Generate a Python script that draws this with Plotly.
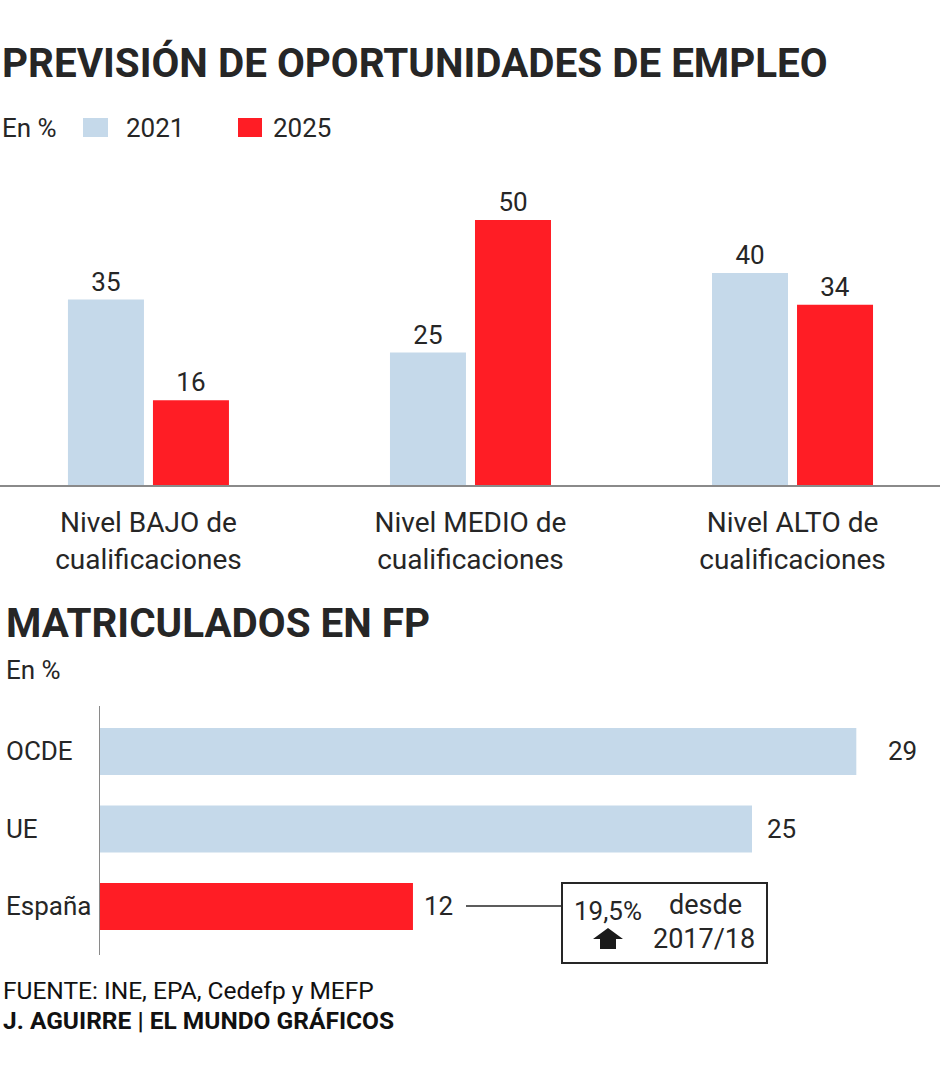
import plotly.graph_objects as go

W, H = 940, 1080
def px(x):
    return x / W
def py(y):
    return 1 - y / H

# ---------------- data ----------------
niveles = ["Nivel BAJO de<br>cualificaciones", "Nivel MEDIO de<br>cualificaciones", "Nivel ALTO de<br>cualificaciones"]
v2021 = [35, 25, 40]
v2025 = [16, 50, 34]

paises = ["España", "UE", "OCDE"]
matriculados = [12, 25, 29]

legend_years = ["2021", "2025"]

BLUE = "#c5d9ea"
RED = "#ff1d25"
TXT = "#262626"
FONT = "Roboto"

fig = go.Figure()

# ---------------- top chart ----------------
fig.add_trace(go.Bar(
    x=niveles, y=v2021, name="2021", marker_color=BLUE, width=0.236, offset=-0.25,
    text=v2021, textposition="outside", cliponaxis=False,
    textfont=dict(size=26, color=TXT, family=FONT), xaxis="x", yaxis="y",
    showlegend=False, marker_line_width=0))
fig.add_trace(go.Bar(
    x=niveles, y=v2025, name="2025", marker_color=RED, width=0.236, offset=0.014,
    text=v2025, textposition="outside", cliponaxis=False,
    textfont=dict(size=26, color=TXT, family=FONT), xaxis="x", yaxis="y",
    showlegend=False, marker_line_width=0))

# ---------------- bottom chart ----------------
colors_h = [RED, BLUE, BLUE]
fig.add_trace(go.Bar(
    x=matriculados, y=paises, orientation="h", marker_color=colors_h, width=0.606,
    xaxis="x2", yaxis="y2", showlegend=False, marker_line_width=0))

annotations = []
shapes = []

# value labels for horizontal bars
label_shift = [9, 13, 30]
for p, v, s in zip(paises, matriculados, label_shift):
    annotations.append(dict(x=v, y=p, xref="x2", yref="y2", text=str(v), showarrow=False,
                            xanchor="left", yanchor="middle", xshift=s,
                            font=dict(size=26, color=TXT, family=FONT)))
    annotations.append(dict(x=px(4), y=p, xref="paper", yref="y2", text=p, showarrow=False,
                            xanchor="left", yanchor="middle",
                            font=dict(size=26, color=TXT, family=FONT)))

# titles
annotations.append(dict(x=px(0), y=py(63), xref="paper", yref="paper", xanchor="left", yanchor="middle",
                        text="<b>PREVISIÓN DE OPORTUNIDADES DE EMPLEO</b>", showarrow=False,
                        font=dict(size=40.4, color=TXT, family=FONT)))
annotations.append(dict(x=px(4), y=py(624), xref="paper", yref="paper", xanchor="left", yanchor="middle",
                        text="<b>MATRICULADOS EN FP</b>", showarrow=False,
                        font=dict(size=40.4, color=TXT, family=FONT)))
annotations.append(dict(x=px(0), y=py(128), xref="paper", yref="paper", xanchor="left", yanchor="middle",
                        text="En %", showarrow=False, font=dict(size=26, color=TXT, family=FONT)))
annotations.append(dict(x=px(4), y=py(670), xref="paper", yref="paper", xanchor="left", yanchor="middle",
                        text="En %", showarrow=False, font=dict(size=26, color=TXT, family=FONT)))

# legend
for (x0, x1, tx, col, lab) in [(83, 108, 124, BLUE, legend_years[0]), (238, 262, 271, RED, legend_years[1])]:
    shapes.append(dict(type="rect", xref="paper", yref="paper", x0=px(x0), x1=px(x1), y0=py(137), y1=py(118),
                       fillcolor=col, line_width=0))
    annotations.append(dict(x=px(tx), y=py(128), xref="paper", yref="paper", xanchor="left", yanchor="middle",
                            text=lab, showarrow=False, font=dict(size=26, color=TXT, family=FONT)))

# callout
shapes.append(dict(type="line", xref="paper", yref="paper", x0=px(466), x1=px(562), y0=py(906), y1=py(906),
                   line=dict(color=TXT, width=1.5)))
shapes.append(dict(type="rect", xref="paper", yref="paper", x0=px(562), x1=px(767), y0=py(963), y1=py(883),
                   line=dict(color=TXT, width=2), fillcolor="rgba(0,0,0,0)"))
ax = [593, 608, 623, 616, 616, 600, 600]
ay = [939, 928, 939, 939, 949, 949, 939]
path = "M " + " L ".join(f"{px(a)},{py(b)}" for a, b in zip(ax, ay)) + " Z"
shapes.append(dict(type="path", xref="paper", yref="paper", path=path, fillcolor="#1a1a1a", line_width=0))
annotations.append(dict(x=px(608), y=py(911), xref="paper", yref="paper", xanchor="center", yanchor="middle",
                        text="19,5%", showarrow=False, font=dict(size=26, color=TXT, family=FONT)))
annotations.append(dict(x=px(705), y=py(905), xref="paper", yref="paper", xanchor="center", yanchor="middle",
                        text="desde", showarrow=False, font=dict(size=27, color=TXT, family=FONT)))
annotations.append(dict(x=px(704), y=py(939), xref="paper", yref="paper", xanchor="center", yanchor="middle",
                        text="2017/18", showarrow=False, font=dict(size=27, color=TXT, family=FONT)))

# footer
annotations.append(dict(x=px(1), y=py(990), xref="paper", yref="paper", xanchor="left", yanchor="middle",
                        text="FUENTE: INE, EPA, Cedefp y MEFP", showarrow=False,
                        font=dict(size=24.5, color="#111", family=FONT)))
annotations.append(dict(x=px(1), y=py(1020), xref="paper", yref="paper", xanchor="left", yanchor="middle",
                        text="<b>J. AGUIRRE | EL MUNDO GRÁFICOS</b>", showarrow=False,
                        font=dict(size=24.5, color="#111", family=FONT)))

fig.update_layout(
    width=W, height=H, margin=dict(l=0, r=0, t=0, b=0),
    paper_bgcolor="white", plot_bgcolor="rgba(0,0,0,0)",
    barmode="overlay", font=dict(family=FONT, color=TXT),
    xaxis=dict(domain=[0, 1], type="category", categoryorder="array", categoryarray=niveles,
               range=[-0.461, 2.458], showline=True, linecolor="#8a8a8a", linewidth=1.5,
               ticks="", showgrid=False, zeroline=False, anchor="y",
               tickfont=dict(size=28, color=TXT, family=FONT), ticklabelstandoff=12),
    yaxis=dict(domain=[py(485), py(160)], range=[0, (485 - 160) / 5.3], visible=False, anchor="x"),
    xaxis2=dict(domain=[px(100), 1], range=[0, 840 / 26.08], visible=False, anchor="y2"),
    yaxis2=dict(domain=[py(955), py(706)], type="category", categoryorder="array", categoryarray=paises,
                range=[-0.626, 2.587], showline=True, linecolor="#8a8a8a", linewidth=1,
                showticklabels=False, ticks="", showgrid=False, zeroline=False, anchor="x2"),
    annotations=annotations, shapes=shapes,
)

fig.write_html("out.html")
